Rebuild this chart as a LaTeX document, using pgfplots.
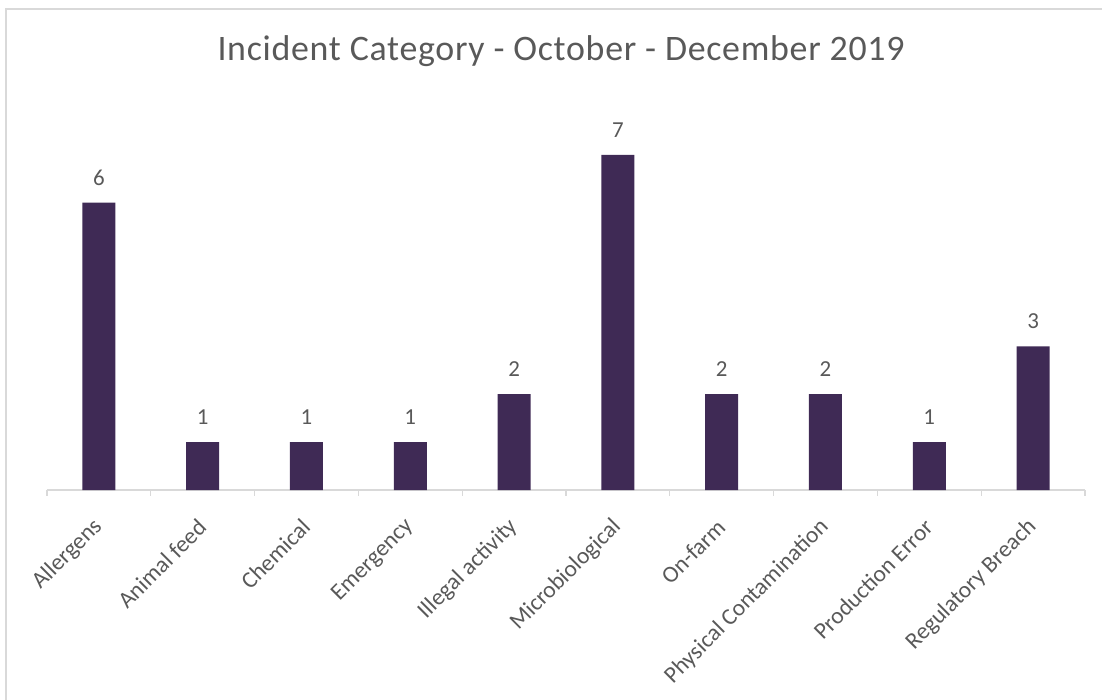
\documentclass[border=0pt]{standalone}
\usepackage{pgfplots}
\pgfplotsset{compat=1.18}
\usepackage{fontspec}
\setmainfont{Carlito}
\definecolor{barc}{HTML}{3F2A55}
\definecolor{txt}{HTML}{595959}
\definecolor{axc}{HTML}{D9D9D9}
\begin{document}
\begin{tikzpicture}
\useasboundingbox (0,0) rectangle (1102bp,700bp);
\draw[axc, line width=1.5bp] (6bp,-5bp) -- (6bp,691bp) -- (1110bp,691bp);
\node[txt, font=\fontsize{36}{42}\selectfont\addfontfeatures{LetterSpace=2}] at (561bp,649bp) {Incident Category - October - December 2019};
\begin{axis}[
  at={(47bp,210bp)}, anchor=south west,
  scale only axis, width=1038bp, height=383bp,
  xmin=-0.5, xmax=9.5, ymin=0, ymax=8,
  axis y line=none, axis x line*=bottom,
  x axis line style={axc, line width=1.2bp, -},
  xtick={0,...,9},
  xticklabels={Allergens,Animal feed,Chemical,Emergency,Illegal activity,Microbiological,On-farm,Physical Contamination,Production Error,Regulatory Breach},
  major tick length=0pt,
  minor xtick={-0.5,0.5,...,9.5},
  minor tick length=6bp,
  tick align=outside,
  minor tick style={axc, line width=1.2bp},
  xticklabel style={xshift=2bp, yshift=-31bp, rotate=45, anchor=east, font=\fontsize{23.5}{27}\selectfont, text=txt},
  ybar, bar width=33bp,
  nodes near coords,
  every node near coord/.append style={font=\fontsize{23}{27}\selectfont, text=txt, yshift=14bp},
  /pgf/number format/assume math mode=true,
  clip=false,
]
\addplot[fill=barc, draw=none] coordinates {(0,6) (1,1) (2,1) (3,1) (4,2) (5,7) (6,2) (7,2) (8,1) (9,3)};
\end{axis}
\end{tikzpicture}
\end{document}
